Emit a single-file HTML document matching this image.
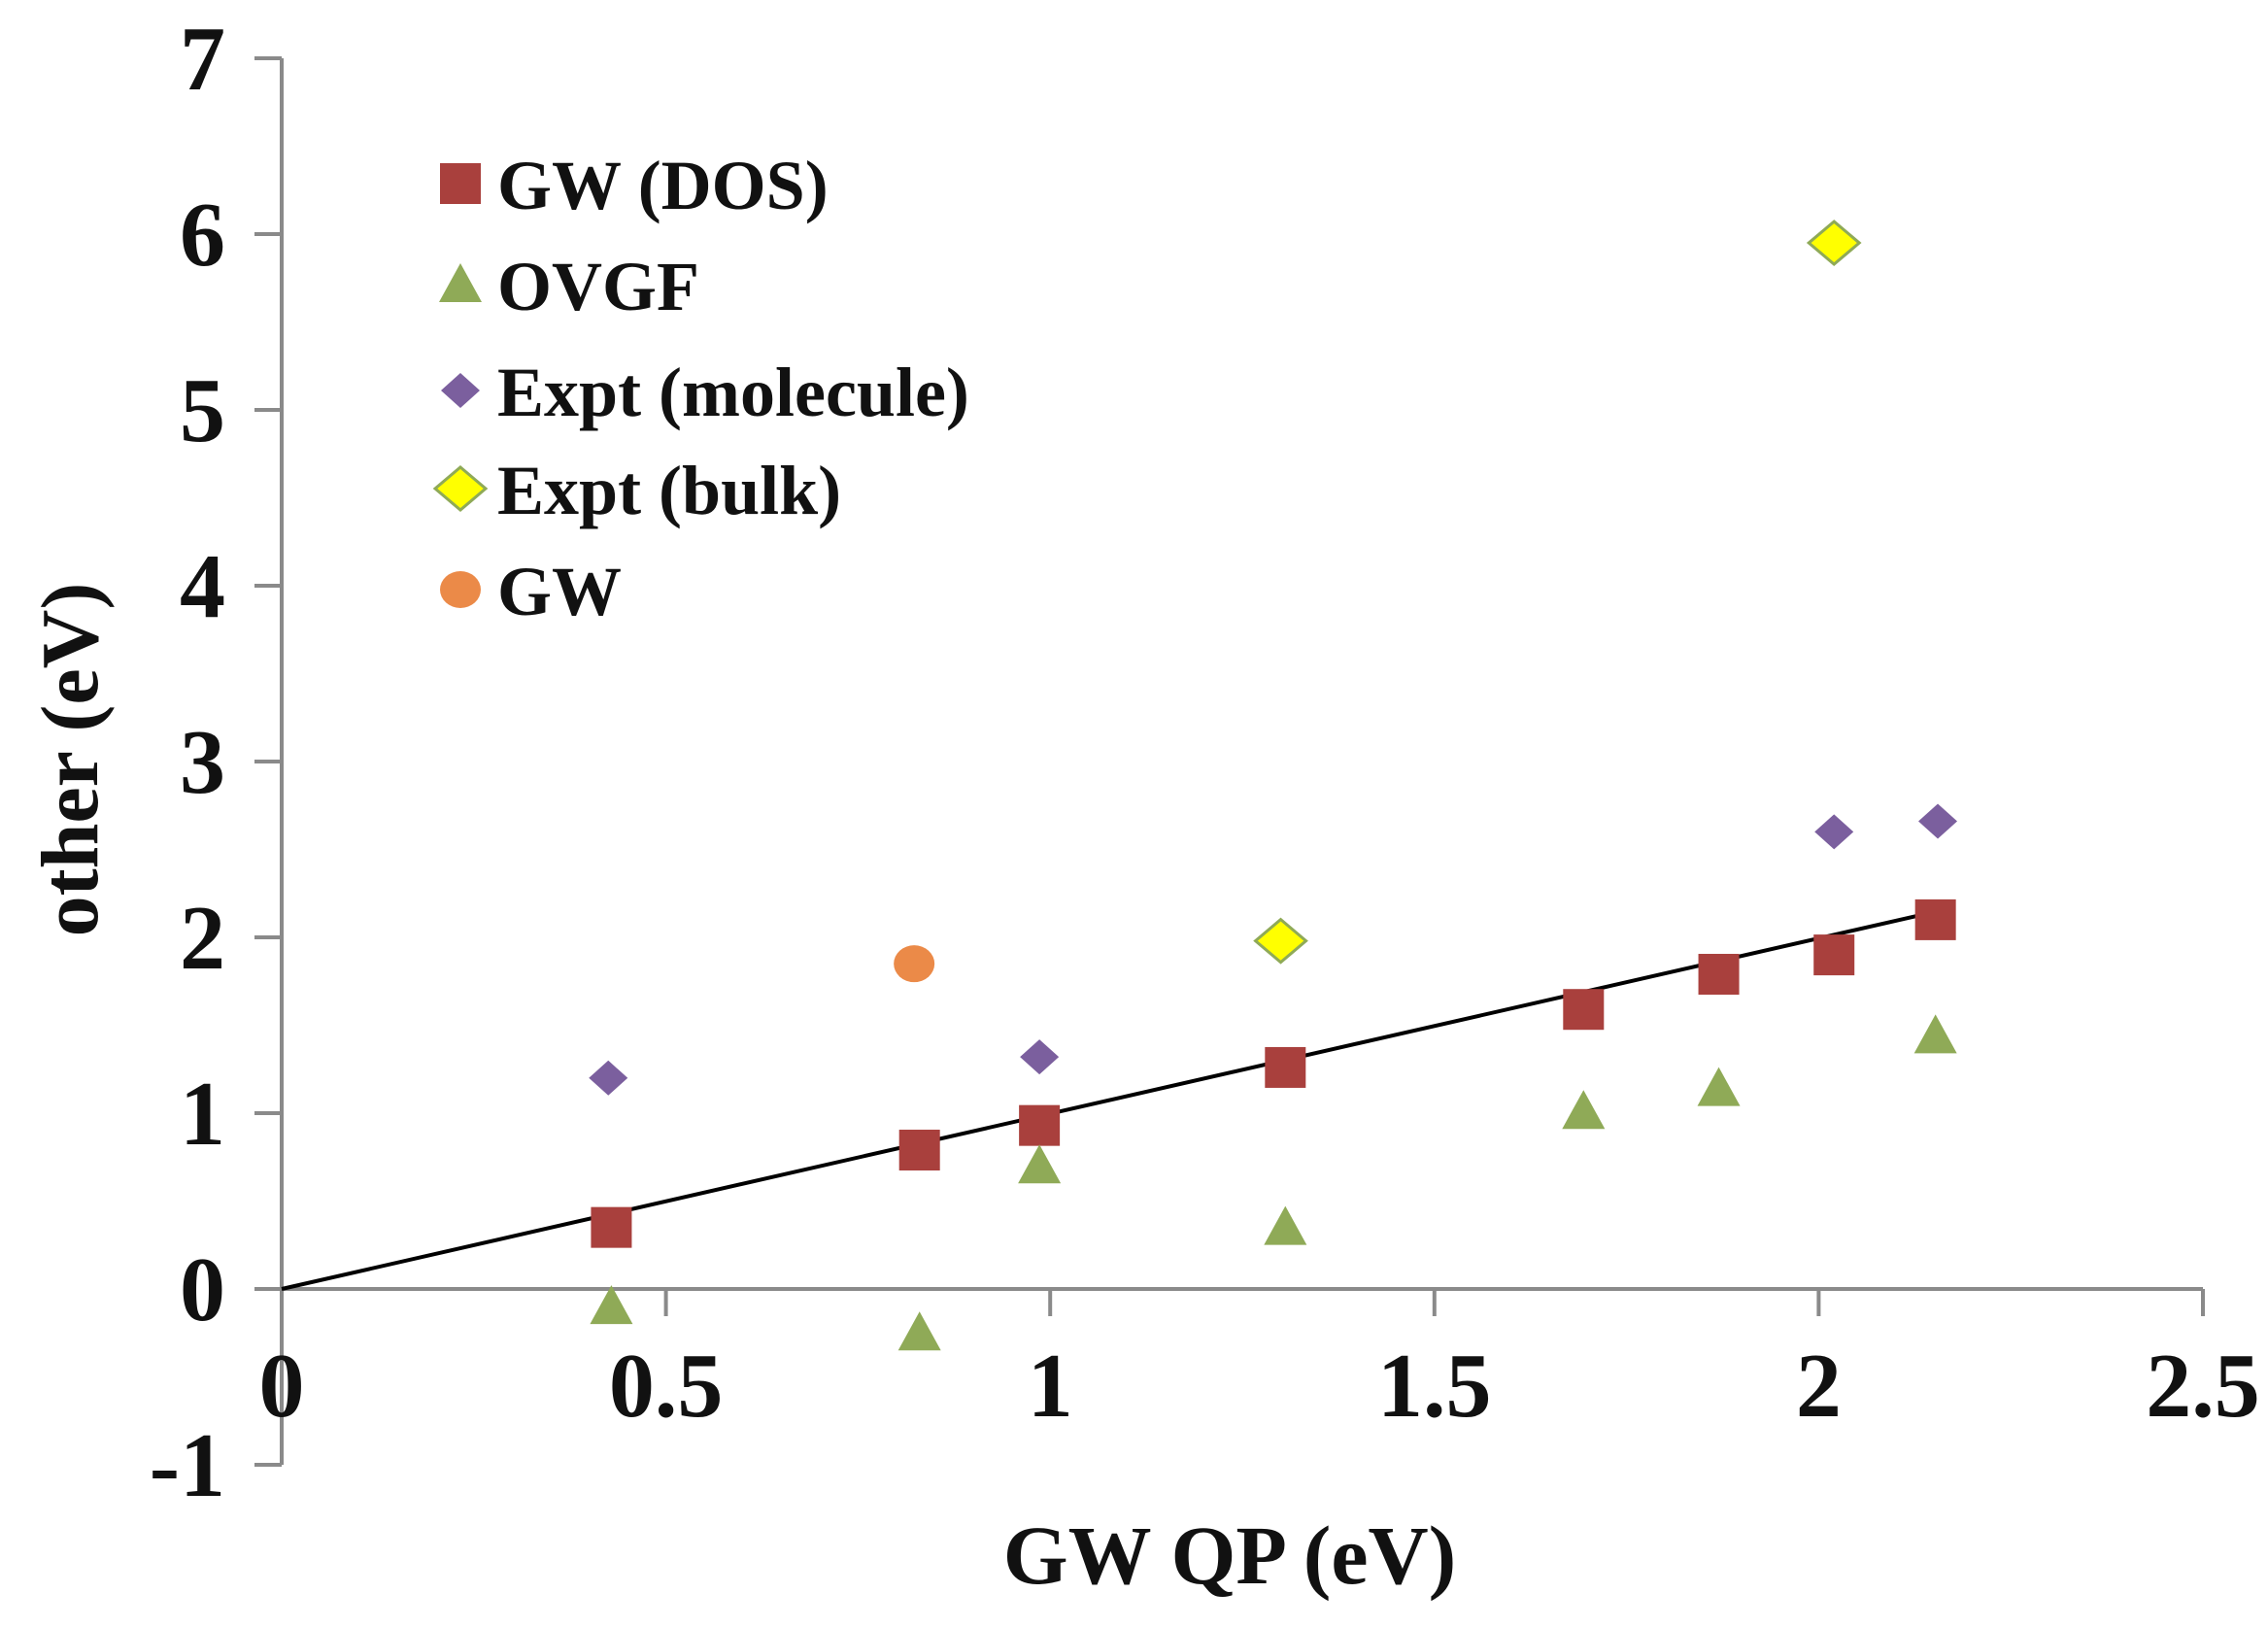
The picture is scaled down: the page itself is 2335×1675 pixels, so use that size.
<!DOCTYPE html>
<html><head><meta charset="utf-8"><style>
html,body{margin:0;padding:0;background:#fff;}
svg text{font-family:"Liberation Serif",serif;font-weight:bold;fill:#111;}
</style></head><body>
<svg id="chart" width="2335" height="1670" viewBox="0 0 2335 1670" xmlns="http://www.w3.org/2000/svg">
<g id="axes"></g>
<g id="marks"></g>
<g id="legend"></g>
<text x="1266" y="1630" font-size="86" text-anchor="middle">GW QP (eV)</text>
<text x="0" y="0" font-size="84" text-anchor="middle" transform="translate(100,782) rotate(-90)">other (eV)</text>
</svg>
<script>
const xTicks = [0, 0.5, 1, 1.5, 2, 2.5];
const yTicks = [-1, 0, 1, 2, 3, 4, 5, 6, 7];
const seriesNames = ["GW (DOS)", "OVGF", "Expt (molecule)", "Expt (bulk)", "GW"];
const dosX = [0.429, 0.83, 0.986, 1.306, 1.694, 1.87, 2.02, 2.152];
const dosY = [0.35, 0.79, 0.93, 1.26, 1.59, 1.79, 1.90, 2.10];
const ovgfX = [0.429, 0.83, 0.986, 1.306, 1.694, 1.87, 2.152];
const ovgfY = [-0.10, -0.25, 0.70, 0.35, 1.01, 1.14, 1.44];
const molX = [0.425, 0.986, 2.02, 2.155];
const molY = [1.20, 1.32, 2.60, 2.66];
const bulkX = [1.30, 2.02];
const bulkY = [1.98, 5.95];
const gwX = [0.823];
const gwY = [1.85];
const fitX = [0, 2.146];
const fitY = [0, 2.14];

const NS = "http://www.w3.org/2000/svg";
const X0 = 290, XPX = 1978/2.5, Y0 = 1327, YPX = 181;
const sx = v => X0 + v*XPX;
const sy = v => Y0 - v*YPX;
function mk(tag, attrs, parent){const e=document.createElementNS(NS,tag);for(const k in attrs)e.setAttribute(k,attrs[k]);parent.appendChild(e);return e;}
const axes = document.getElementById('axes');
const marks = document.getElementById('marks');
const legend = document.getElementById('legend');
const axisCol = "#8a8a8a";

let yl = mk('line',{x1:X0,y1:sy(7),x2:X0,y2:sy(-1),stroke:axisCol,'stroke-width':4},axes);


let xl = mk('line',{x1:X0,y1:Y0,x2:sx(2.5),y2:Y0,stroke:axisCol,'stroke-width':4},axes);


yTicks.forEach(t=>{
  const tk = mk('line',{x1:X0-28,y1:sy(t),x2:X0,y2:sy(t),stroke:axisCol,'stroke-width':4},axes);
  
  
  const tx = mk('text',{x:232,y:sy(t)+32,'font-size':94,'text-anchor':'end'},axes);
  tx.textContent = t<0 ? "-"+Math.abs(t) : String(t);
  
  
});
xTicks.forEach(t=>{
  const tk = mk('line',{x1:sx(t),y1:Y0,x2:sx(t),y2:Y0+28,stroke:axisCol,'stroke-width':4},axes);
  
  
  const tx = mk('text',{x:sx(t),y:1458,'font-size':94,'text-anchor':'middle'},axes);
  tx.textContent = String(t);
  
  
});

function drawMarker(kind,cx,cy,parent){
  let e;
  if(kind==='square') e=mk('rect',{x:cx-21,y:cy-21,width:42,height:42,fill:"#A9403D"},parent);
  else if(kind==='tri') e=mk('polygon',{points:`${cx},${cy-22} ${cx+22},${cy+18} ${cx-22},${cy+18}`,fill:"#8FAA57"},parent);
  else if(kind==='dia') e=mk('polygon',{points:`${cx},${cy-18} ${cx+20},${cy} ${cx},${cy+18} ${cx-20},${cy}`,fill:"#7B5F9E"},parent);
  else if(kind==='bulk') e=mk('polygon',{points:`${cx},${cy-22} ${cx+26},${cy} ${cx},${cy+22} ${cx-26},${cy}`,fill:"#FFFF00",stroke:"#8FAA57",'stroke-width':3},parent);
  else e=mk('ellipse',{cx:cx,cy:cy,rx:21,ry:19,fill:"#EB8A48"},parent);
  return e;
}
const fit = mk('line',{x1:sx(fitX[0]),y1:sy(fitY[0]),x2:sx(fitX[1]),y2:sy(fitY[1]),stroke:"#000",'stroke-width':4},marks);


const sets = [
  ["square",dosX,dosY,"gw-dos-point"],
  ["tri",ovgfX,ovgfY,"ovgf-point"],
  ["dia",molX,molY,"expt-molecule-point"],
  ["bulk",bulkX,bulkY,"expt-bulk-point"],
  ["circ",gwX,gwY,"gw-point"]
];
sets.forEach(s=>{
  s[1].forEach((x,i)=>{
    const e = drawMarker(s[0],sx(x),sy(s[2][i]),marks);
    
    
  });
});
const legY = [189,293,402,503,607];
sets.forEach((s,i)=>{
  const m = drawMarker(s[0],474,legY[i],legend);
  
  
  const t = mk('text',{x:512,y:legY[i]+26,'font-size':72},legend);
  t.textContent = seriesNames[i];
  
  
});
</script>
</body></html>
